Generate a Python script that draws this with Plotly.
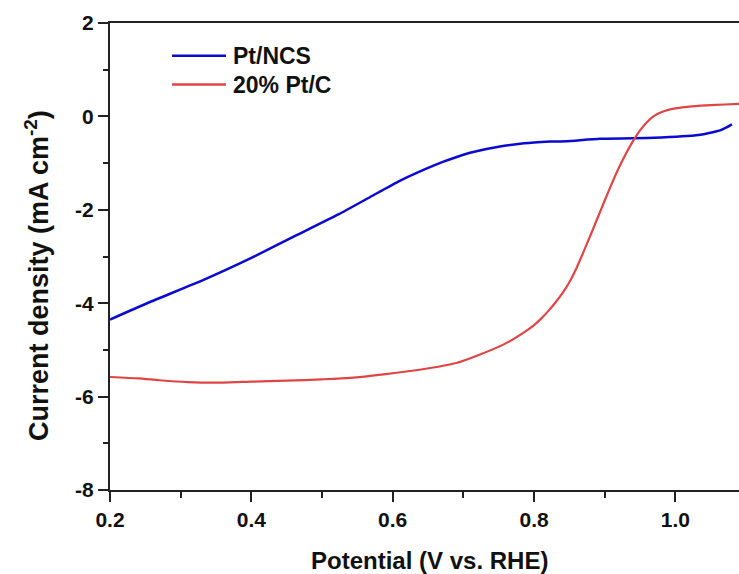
import plotly.graph_objects as go

# Linear sweep voltammetry curves (ORR)
pt_ncs_potential = [0.200, 0.254, 0.334, 0.400, 0.462, 0.523, 0.570, 0.610, 0.646, 0.670,
                    0.700, 0.720, 0.750, 0.775, 0.800, 0.823, 0.846, 0.893, 0.940, 0.980,
                    1.016, 1.040, 1.053, 1.065, 1.073, 1.080]
pt_ncs_current = [-4.35, -3.99, -3.49, -3.03, -2.56, -2.10, -1.71, -1.38, -1.13, -0.98,
                  -0.82, -0.74, -0.65, -0.595, -0.56, -0.54, -0.53, -0.48, -0.47, -0.45,
                  -0.42, -0.38, -0.34, -0.29, -0.23, -0.17]

ptc_potential = [0.200, 0.240, 0.270, 0.310, 0.360, 0.400, 0.450, 0.500, 0.540, 0.590,
                 0.640, 0.690, 0.720, 0.760, 0.790, 0.800, 0.810, 0.820, 0.830, 0.840,
                 0.850, 0.860, 0.870, 0.880, 0.890, 0.900, 0.910, 0.920, 0.930, 0.940,
                 0.950, 0.960, 0.970, 0.980, 0.990, 1.000, 1.020, 1.044, 1.070, 1.090]
ptc_current = [-5.58, -5.61, -5.65, -5.69, -5.70, -5.68, -5.66, -5.63, -5.60, -5.52,
               -5.42, -5.28, -5.12, -4.86, -4.58, -4.47, -4.33, -4.17, -3.99, -3.79,
               -3.55, -3.25, -2.90, -2.54, -2.17, -1.80, -1.44, -1.10, -0.80, -0.53,
               -0.30, -0.12, 0.01, 0.09, 0.14, 0.17, 0.21, 0.235, 0.255, 0.27]

series_names = ["Pt/NCS", "20% Pt/C"]
series_colors = ["#0a0ad0", "#e04545"]

y_tick_values = [-8, -6, -4, -2, 0, 2]
y_tick_labels = ["-8", "-6", "-4", "-2", "0", "2"]

W, H = 739, 574
ML, MT, MB, MR = 110, 23, 84, 0
PW, PH = W - ML - MR, H - MT - MB
FONT = "Liberation Sans, Arial, sans-serif"
AXIS_COLOR = "#222222"
TEXT_COLOR = "#111111"


def px_x(px):
    return (px - ML) / PW


def px_y(py):
    return 1 - (py - MT) / PH


fig = go.Figure()
fig.add_trace(go.Scatter(x=pt_ncs_potential, y=pt_ncs_current, mode="lines",
                         name=series_names[0],
                         line=dict(color=series_colors[0], width=2.5, shape="spline", smoothing=0.5)))
fig.add_trace(go.Scatter(x=ptc_potential, y=ptc_current, mode="lines",
                         name=series_names[1],
                         line=dict(color=series_colors[1], width=2.2, shape="spline", smoothing=0.5)))

tick_font = dict(family=FONT, size=21, color=TEXT_COLOR, weight="bold")

fig.update_layout(
    width=W, height=H,
    margin=dict(l=ML, r=MR, t=MT, b=MB, pad=0),
    paper_bgcolor="white", plot_bgcolor="white",
    showlegend=False,
    xaxis=dict(range=[0.2, 1.09], tick0=0.2, dtick=0.2, tickformat=".1f",
               showgrid=False, zeroline=False,
               showline=True, linecolor=AXIS_COLOR, linewidth=2, mirror=True,
               ticks="outside", ticklen=10, tickwidth=2, tickcolor=AXIS_COLOR,
               minor=dict(ticks="outside", dtick=0.1, tick0=0.2, ticklen=6, tickwidth=2,
                          tickcolor=AXIS_COLOR),
               tickfont=tick_font),
    yaxis=dict(range=[-8, 2], tickmode="array", tickvals=y_tick_values, ticktext=y_tick_labels,
               showgrid=False, zeroline=False,
               showline=True, linecolor=AXIS_COLOR, linewidth=2,
               ticks="outside", ticklen=10, tickwidth=2, tickcolor=AXIS_COLOR,
               minor=dict(ticks="outside", dtick=1, tick0=-8, ticklen=5, tickwidth=2,
                          tickcolor=AXIS_COLOR),
               tickfont=tick_font),
)

fig.add_annotation(text="Potential (V vs. RHE)", xref="paper", yref="paper",
                   x=px_x(429), y=px_y(560), showarrow=False,
                   font=dict(family=FONT, size=24, color=TEXT_COLOR, weight="bold"),
                   xanchor="center", yanchor="middle")
fig.add_annotation(text="Current density (mA cm<sup>-2</sup>)", xref="paper", yref="paper",
                   x=px_x(37), y=px_y(276), showarrow=False,
                   font=dict(family=FONT, size=27, color=TEXT_COLOR, weight="bold"),
                   textangle=-90, xanchor="center", yanchor="middle")

# Legend drawn as line samples with labels
legend_rows = [55.7, 84.5]
for name, color, row in zip(series_names, series_colors, legend_rows):
    fig.add_shape(type="line", xref="paper", yref="paper",
                  x0=px_x(172), x1=px_x(226), y0=px_y(row), y1=px_y(row),
                  line=dict(color=color, width=2.5))
    fig.add_annotation(text=name, xref="paper", yref="paper",
                       x=px_x(231), y=px_y(row), showarrow=False,
                       xanchor="left", yanchor="middle",
                       font=dict(family=FONT, size=23, color=TEXT_COLOR, weight="bold"))

fig.write_html("out.html")
